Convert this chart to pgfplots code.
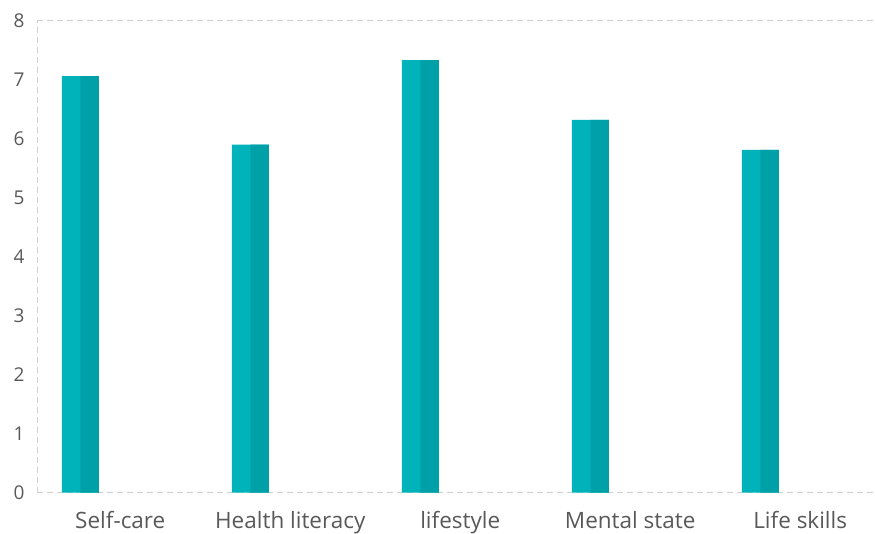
\documentclass[border=0pt]{standalone}
\usepackage{fontspec}
\setmainfont{Open Sans}
\usepackage{pgfplots}
\pgfplotsset{compat=1.18}
\definecolor{barlight}{HTML}{00B3BA}
\definecolor{bardark}{HTML}{00A0A8}
\definecolor{labelgray}{HTML}{595959}
\definecolor{gridgray}{HTML}{D0D0D0}
\begin{document}
\begin{tikzpicture}
\begin{axis}[
  name=ax,
  scale only axis,
  width=838pt, height=472pt,
  xmin=0, xmax=4.93,
  ymin=0, ymax=8,
  enlargelimits=false,
  axis x line*=bottom,
  axis y line*=left,
  axis line style={gridgray, line width=1pt, dash pattern=on 6pt off 4pt},
  ytick={0,1,...,7},
  extra y ticks={8},
  extra y tick style={grid=major, major grid style={gridgray, line width=1pt, dash pattern=on 6pt off 4pt}},
  major tick length=0pt,
  xtick={0.49,1.49,2.49,3.49,4.49},
  xticklabels={Self-care, Health literacy, lifestyle, Mental state, Life skills},
  x tick label style={font=\fontsize{22.5}{26}\selectfont, text=labelgray, yshift=-15pt},
  y tick label style={font=\fontsize{19}{22}\selectfont, text=labelgray, xshift=-9pt},
  /pgf/number format/assume math mode=true,
  clip=false,
]
% full bar in the lighter tone
\addplot[ybar, bar width=37pt, bar shift=0pt, fill=barlight, draw=none]
  coordinates {(0.255,7.06) (1.255,5.90) (2.255,7.33) (3.255,6.32) (4.255,5.81)};
% darker right half laid over it
\addplot[ybar, bar width=18.5pt, bar shift=9.25pt, fill=bardark, draw=none]
  coordinates {(0.255,7.06) (1.255,5.90) (2.255,7.33) (3.255,6.32) (4.255,5.81)};
\end{axis}
\pgfresetboundingbox
\path[use as bounding box] ([shift={(-37pt,-40.3pt)}]ax.south west) rectangle ([shift={(0pt,20.7pt)}]ax.north east);
\end{tikzpicture}
\end{document}
